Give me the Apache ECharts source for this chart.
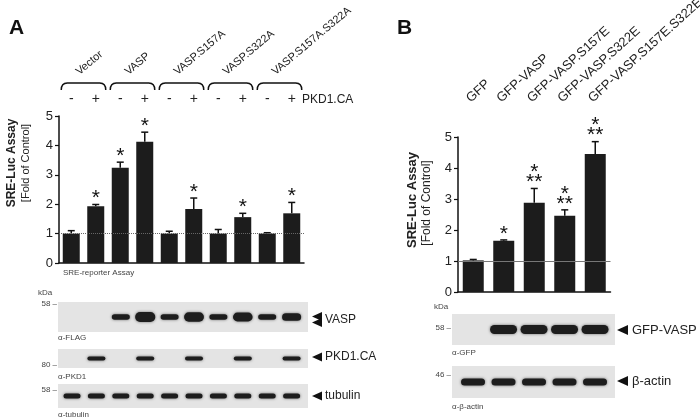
<!DOCTYPE html>
<html>
<head>
<meta charset="utf-8">
<script src="https://cdn.jsdelivr.net/npm/echarts@6/dist/echarts.min.js"></script>
<style>html,body{margin:0;padding:0;background:#fff}#c{width:700px;height:420px}</style>
</head>
<body>
<div id="c"></div>
<script>
// ---------- Panel A data ----------
const conditionsA = ['Vector', 'VASP', 'VASP.S157A', 'VASP.S322A', 'VASP.S157A.S322A'];
const pkdSigns = ['-', '+'];
const categoriesA = [];
conditionsA.forEach(c => pkdSigns.forEach(s => categoriesA.push(c + ' ' + s)));
const sreA   = [1.00, 1.93, 3.24, 4.12, 1.00, 1.84, 1.00, 1.56, 1.00, 1.69];
const errA   = [0.10, 0.06, 0.19, 0.33, 0.08, 0.37, 0.14, 0.13, 0.03, 0.37];
const starsA = ['', '*', '*', '*', '', '*', '', '*', '', '*'];
const yTicksA = [0, 1, 2, 3, 4, 5];
// relative band intensities per lane (western blots)
const vaspBandA    = [0, 0, 1, 1.8, 1, 1.7, 1, 1.6, 1, 1.4];
const pkdBandA     = [0, 1, 0, 1, 0, 1, 0, 1, 0, 1];
const tubulinBandA = [1, 1, 1, 1, 1, 1, 1, 1, 1, 1];

// ---------- Panel B data ----------
const constructsB = ['GFP', 'GFP-VASP', 'GFP-VASP.S157E', 'GFP-VASP.S322E', 'GFP-VASP.S157E.S322E'];
const sreB   = [1.02, 1.65, 2.88, 2.46, 4.45];
const errB   = [0.03, 0.03, 0.46, 0.19, 0.40];
const starsB = ['', '*', '*\n**', '*\n**', '*\n**'];
const yTicksB = [0, 1, 2, 3, 4, 5];
const gfpBandB   = [0, 1, 1, 1, 1];
const actinBandB = [1, 1, 1, 1, 1];

const FONT = 'Liberation Sans, Arial, sans-serif';

const chart = echarts.init(document.getElementById('c'), null, {renderer: 'canvas'});

function valueAxis(grid, ticks, margin) {
  return {
    type: 'value', gridIndex: grid, min: ticks[0], max: ticks[ticks.length - 1], interval: ticks[1] - ticks[0],
    axisLine: {show: true, lineStyle: {color: '#111', width: 1.5}},
    axisTick: {show: true, length: 4, lineStyle: {color: '#111', width: 1.2}},
    splitLine: {show: false},
    axisLabel: {fontSize: 13, color: '#222', margin: margin, fontFamily: FONT}
  };
}
function hiddenX(grid, min, max) {
  return {type: 'value', gridIndex: grid, min: min, max: max, show: false, splitLine: {show: false}};
}
function hiddenY(grid) {
  return {type: 'value', gridIndex: grid, min: -1, max: 1, show: false, splitLine: {show: false}};
}

function errRenderer(errs, stars, capW, starGap) {
  return function (params, api) {
    const i = api.value(0), v = api.value(1);
    const e = errs[params.dataIndex];
    const base = api.coord([i, v]);
    const top = api.coord([i, v + e]);
    const children = [
      {type: 'line', shape: {x1: base[0], y1: base[1], x2: top[0], y2: top[1]}, style: {stroke: '#111', lineWidth: 1.5}},
      {type: 'line', shape: {x1: top[0] - capW / 2, y1: top[1], x2: top[0] + capW / 2, y2: top[1]}, style: {stroke: '#111', lineWidth: 1.5}}
    ];
    const s = stars[params.dataIndex];
    if (s) {
      children.push({type: 'text', x: top[0], y: top[1] - starGap,
        style: {text: s, align: 'center', verticalAlign: 'bottom', font: '21px ' + FONT, fill: '#111', lineHeight: 10}});
    }
    return {type: 'group', children: children};
  };
}

// rotated category names above the plot, anchored on the axis scale
function nameRenderer(names, deg, dy, dx, font) {
  return function (params, api) {
    const p1 = api.coord([api.value(0), 5]);
    const p2 = api.coord([api.value(2), 5]);
    return {type: 'text', x: (p1[0] + p2[0]) / 2 + dx, y: p1[1] - dy, rotation: deg * Math.PI / 180,
      style: {text: names[params.dataIndex], align: 'left', verticalAlign: 'middle', font: font, fill: '#222'}};
  };
}

function bandRenderer(bw, bh) {
  return function (params, api) {
    const lane = api.value(0), k = api.value(2);
    if (!k) return null;
    const p = api.coord([lane, 0]);
    const w = bw * (0.85 + 0.15 * k);
    const h = bh * k;
    return {type: 'rect', shape: {x: p[0] - w / 2, y: p[1] - h / 2, width: w, height: h, r: h / 2},
      style: {fill: '#1d1d1d', shadowBlur: 3, shadowColor: 'rgba(0,0,0,0.55)'}};
  };
}
function bandSeries(xi, yi, arr, bw, bh) {
  return {type: 'custom', xAxisIndex: xi, yAxisIndex: yi, silent: true,
    data: arr.map((k, i) => [i, 0, k]), renderItem: bandRenderer(bw, bh)};
}

function bracketRenderer(params, api) {
  const a = api.value(0), b = api.value(2);
  const p1 = api.coord([a, 5]), p2 = api.coord([b, 5]);
  const x1 = p1[0] - 10, x2 = p2[0] + 10, yb = p1[1] - 33;
  return {type: 'path', shape: {pathData:
    'M' + x1 + ' ' + (yb + 7) + ' Q' + x1 + ' ' + yb + ' ' + (x1 + 6) + ' ' + yb +
    ' L' + (x2 - 6) + ' ' + yb + ' Q' + x2 + ' ' + yb + ' ' + x2 + ' ' + (yb + 7)},
    style: {stroke: '#111', lineWidth: 1.5, fill: null}};
}

function tri(x, y, w, h) {
  return {type: 'polygon', shape: {points: [[x, y], [x + w, y - h / 2], [x + w, y + h / 2]]}, style: {fill: '#111'}};
}
function txt(x, y, text, font, opts) {
  return {type: 'text', x: x, y: y, style: Object.assign({text: text, font: font, fill: '#222', align: 'left', verticalAlign: 'middle'}, opts || {})};
}

const option = {
  animation: false,
  backgroundColor: '#fff',
  textStyle: {fontFamily: FONT},
  grid: [
    {left: 59, top: 116, width: 245, height: 147},                                   // 0 A chart
    {left: 58, top: 302, width: 250, height: 30, show: true, backgroundColor: '#e4e4e4', borderWidth: 0}, // 1 A FLAG
    {left: 58, top: 349, width: 250, height: 19, show: true, backgroundColor: '#e4e4e4', borderWidth: 0}, // 2 A PKD1
    {left: 58, top: 384, width: 250, height: 24, show: true, backgroundColor: '#e4e4e4', borderWidth: 0}, // 3 A tubulin
    {left: 458, top: 137, width: 152.5, height: 155},                                // 4 B chart
    {left: 452, top: 314, width: 163, height: 31, show: true, backgroundColor: '#e4e4e4', borderWidth: 0}, // 5 B GFP
    {left: 452, top: 366, width: 163, height: 32, show: true, backgroundColor: '#e4e4e4', borderWidth: 0}  // 6 B actin
  ],
  xAxis: [
    {type: 'category', gridIndex: 0, data: categoriesA, axisLine: {lineStyle: {color: '#111', width: 1.5}}, axisTick: {show: false}, axisLabel: {show: false}},
    {type: 'category', gridIndex: 0, position: 'top', data: categoriesA, axisLine: {show: false}, axisTick: {show: false},
      axisLabel: {interval: 0, margin: 10, fontSize: 14, color: '#222', formatter: (v, i) => pkdSigns[i % 2]}},
    hiddenX(1, -0.574, 9.672),
    hiddenX(2, -0.574, 9.672),
    hiddenX(3, -0.574, 9.672),
    {type: 'category', gridIndex: 4, data: constructsB, axisLine: {lineStyle: {color: '#111', width: 1.5}}, axisTick: {show: false}, axisLabel: {show: false}},
    hiddenX(5, -0.689, 4.655),
    hiddenX(6, -0.689, 4.655)
  ],
  yAxis: [
    valueAxis(0, yTicksA, 6),
    hiddenY(1), hiddenY(2), hiddenY(3),
    valueAxis(4, yTicksB, 6),
    hiddenY(5), hiddenY(6)
  ],
  series: [
    {type: 'bar', xAxisIndex: 0, yAxisIndex: 0, data: sreA, barWidth: 17, itemStyle: {color: '#1c1c1c'},
      markLine: {silent: true, symbol: 'none', label: {show: false}, lineStyle: {type: 'dotted', color: '#666', width: 1}, data: [{yAxis: 1}]}},
    {type: 'custom', xAxisIndex: 0, yAxisIndex: 0, silent: true, data: sreA.map((v, i) => [i, v]), renderItem: errRenderer(errA, starsA, 7, 1)},
    {type: 'custom', xAxisIndex: 0, yAxisIndex: 0, silent: true, data: conditionsA.map((c, g) => [2 * g, 0, 2 * g + 1]), renderItem: bracketRenderer},
    {type: 'custom', xAxisIndex: 0, yAxisIndex: 0, silent: true, data: conditionsA.map((c, g) => [2 * g, 0, 2 * g + 1]),
      renderItem: nameRenderer(conditionsA, 40, 43, -6, '11px ' + FONT)},
    bandSeries(2, 1, vaspBandA, 18, 5.5),
    bandSeries(3, 2, pkdBandA, 18, 4),
    bandSeries(4, 3, tubulinBandA, 17, 5),
    {type: 'bar', xAxisIndex: 5, yAxisIndex: 4, data: sreB, barWidth: 21, itemStyle: {color: '#1c1c1c'},
      markLine: {silent: true, symbol: 'none', label: {show: false}, lineStyle: {type: 'solid', color: '#777', width: 1.2}, data: [{yAxis: 1}]}},
    {type: 'custom', xAxisIndex: 5, yAxisIndex: 4, silent: true, data: sreB.map((v, i) => [i, v]), renderItem: errRenderer(errB, starsB, 7, 1)},
    {type: 'custom', xAxisIndex: 5, yAxisIndex: 4, silent: true, data: constructsB.map((c, i) => [i, 0, i]),
      renderItem: nameRenderer(constructsB, 42, 37, -5, '13px ' + FONT)},
    bandSeries(6, 5, gfpBandB, 27, 9),
    bandSeries(7, 6, actinBandB, 24, 7)
  ],
  graphic: [
    // Panel letters
    txt(9, 28, 'A', 'bold 21px ' + FONT, {fill: '#111'}),
    txt(397, 28, 'B', 'bold 21px ' + FONT, {fill: '#111'}),
    // Panel A annotations
    txt(302, 100, 'PKD1.CA', '12px ' + FONT),
    {type: 'text', x: 12, y: 163, rotation: Math.PI / 2, style: {text: 'SRE-Luc Assay', font: 'bold 12px ' + FONT, fill: '#222', align: 'center', verticalAlign: 'middle'}},
    {type: 'text', x: 26, y: 163, rotation: Math.PI / 2, style: {text: '[Fold of Control]', font: '11px ' + FONT, fill: '#222', align: 'center', verticalAlign: 'middle'}},
    txt(63, 273, 'SRE-reporter Assay', '8px ' + FONT, {fill: '#444'}),
    txt(38, 293, 'kDa', '8px ' + FONT, {fill: '#444'}),
    txt(57, 304, '58 \u2013', '8px ' + FONT, {fill: '#444', align: 'right'}),
    txt(58, 338, '\u03b1-FLAG', '8px ' + FONT, {fill: '#444'}),
    txt(57, 365, '80 \u2013', '8px ' + FONT, {fill: '#444', align: 'right'}),
    txt(58, 377, '\u03b1-PKD1', '8px ' + FONT, {fill: '#444'}),
    txt(57, 390, '58 \u2013', '8px ' + FONT, {fill: '#444', align: 'right'}),
    txt(58, 415, '\u03b1-tubulin', '8px ' + FONT, {fill: '#444'}),
    tri(312, 316.5, 10, 9), tri(312, 322.5, 10, 9),
    txt(325, 320, 'VASP', '12px ' + FONT),
    tri(312, 357, 10, 9),
    txt(325, 357, 'PKD1.CA', '12px ' + FONT),
    tri(312, 396, 10, 9),
    txt(325, 396, 'tubulin', '12px ' + FONT),
    // Panel B annotations
    {type: 'text', x: 412, y: 200, rotation: Math.PI / 2, style: {text: 'SRE-Luc Assay', font: 'bold 13px ' + FONT, fill: '#222', align: 'center', verticalAlign: 'middle'}},
    {type: 'text', x: 427, y: 203, rotation: Math.PI / 2, style: {text: '[Fold of Control]', font: '12px ' + FONT, fill: '#222', align: 'center', verticalAlign: 'middle'}},
    txt(434, 307, 'kDa', '8px ' + FONT, {fill: '#444'}),
    txt(451, 328, '58 \u2013', '8px ' + FONT, {fill: '#444', align: 'right'}),
    txt(452, 353, '\u03b1-GFP', '8px ' + FONT, {fill: '#444'}),
    txt(451, 375, '46 \u2013', '8px ' + FONT, {fill: '#444', align: 'right'}),
    txt(452, 407, '\u03b1-\u03b2-actin', '8px ' + FONT, {fill: '#444'}),
    tri(617, 330, 11, 10),
    txt(632, 330, 'GFP-VASP', '13px ' + FONT),
    tri(617, 381, 11, 10),
    txt(632, 381, '\u03b2-actin', '13px ' + FONT)
  ]
};
chart.setOption(option);
</script>
</body>
</html>
